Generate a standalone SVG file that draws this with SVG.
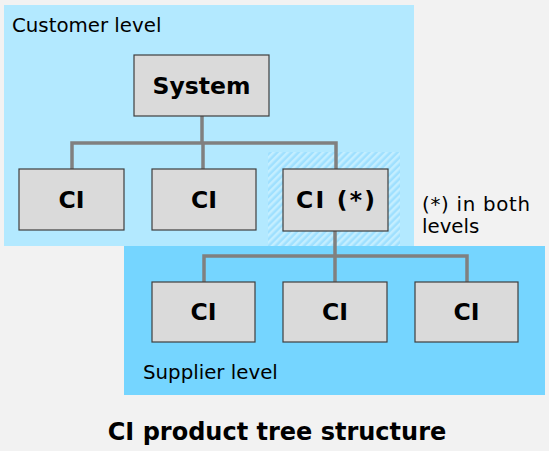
<svg xmlns="http://www.w3.org/2000/svg" width="549" height="451" viewBox="0 0 549 451">
  <defs>
    <pattern id="hatch" width="5" height="5" patternUnits="userSpaceOnUse" patternTransform="rotate(45)">
      <rect width="5" height="5" fill="#9fe0ff"/>
      <rect width="2.5" height="5" fill="#c4eeff"/>
    </pattern>
  </defs>
  <style>
    .node rect { fill: #dadada; stroke: #3f3f3f; stroke-width: 1.2; }
    .node text { font-family: "DejaVu Sans", Verdana, sans-serif; font-weight: bold; font-size: 23.5px; fill: #000; text-anchor: middle; }
    .lbl { font-family: "DejaVu Sans", Verdana, sans-serif; font-size: 19.8px; fill: #000; }
    .title { font-family: "DejaVu Sans", Verdana, sans-serif; font-weight: bold; font-size: 24px; fill: #000; text-anchor: middle; }
    .conn path { fill: none; stroke: #808080; stroke-width: 3.5; }
  </style>
  <rect width="549" height="451" fill="#f2f2f2"/>
  <g id="customer-level">
    <rect x="4" y="5" width="410" height="241" fill="#b3e9ff"/>
    <text class="lbl" x="12" y="32">Customer level</text>
  </g>
  <g id="supplier-level">
    <rect x="124" y="246" width="421" height="149" fill="#75d5ff"/>
    <text class="lbl" x="143" y="379">Supplier level</text>
  </g>
  <rect id="both-levels-marker" x="268" y="152" width="132" height="94" fill="url(#hatch)"/>
  <text class="lbl" x="422" y="211" textLength="108" lengthAdjust="spacing">(*) in both</text>
  <text class="lbl" x="422" y="233">levels</text>
  <g class="conn" id="connectors">
    <path d="M202 116 V143 M72 169 V143 H336 V169 M203 143 V169"/>
    <path d="M335 231 V256 M204 282 V256 H467 V282 M335 256 V282"/>
  </g>
  <g class="node" id="system"><rect x="134" y="55" width="135" height="61"/><text x="201.5" y="94">System</text></g>
  <g class="node" id="ci-1"><rect x="19" y="169" width="105" height="61"/><text x="71.5" y="208">CI</text></g>
  <g class="node" id="ci-2"><rect x="152" y="169" width="104" height="61"/><text x="204" y="208">CI</text></g>
  <g class="node" id="ci-both"><rect x="283" y="169" width="105" height="62"/><text x="335.5" y="208" textLength="79" lengthAdjust="spacing">CI (*)</text></g>
  <g class="node" id="ci-s1"><rect x="152" y="282" width="103" height="60"/><text x="203.5" y="320">CI</text></g>
  <g class="node" id="ci-s2"><rect x="283" y="282" width="104" height="60"/><text x="335" y="320">CI</text></g>
  <g class="node" id="ci-s3"><rect x="415" y="282" width="103" height="60"/><text x="466.5" y="320">CI</text></g>
  <text class="title" x="277" y="440">CI product tree structure</text>
</svg>
